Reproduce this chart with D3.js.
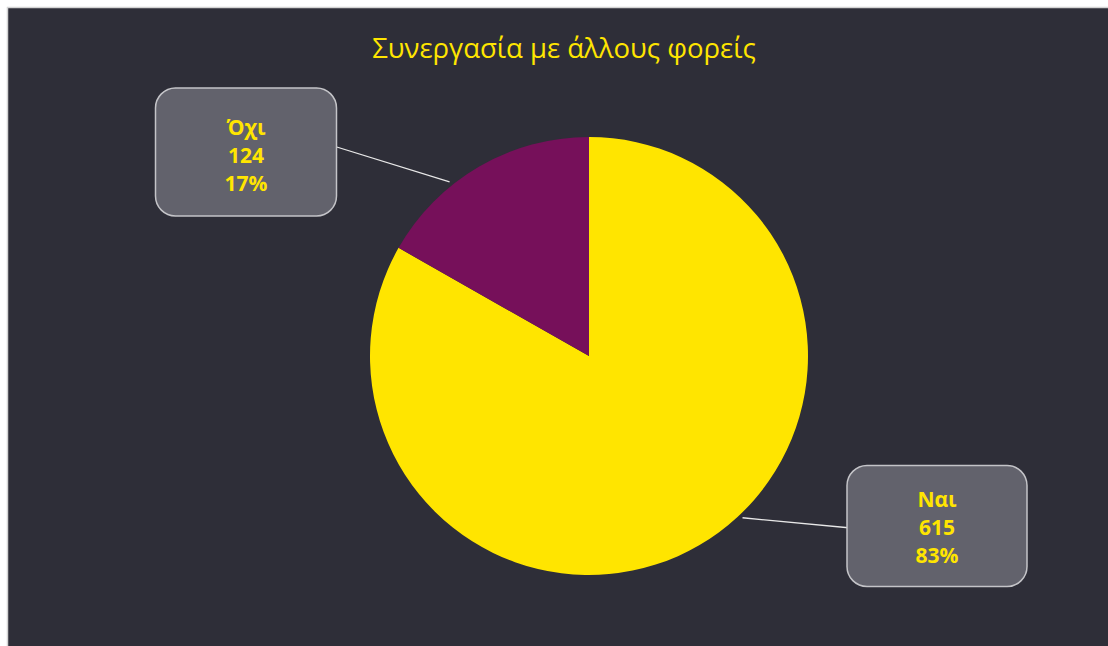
<!DOCTYPE html>
<html>
<head>
<meta charset="utf-8">
<script src="https://cdn.jsdelivr.net/npm/d3@7"></script>
<style>
  html, body { margin: 0; padding: 0; background: #ffffff; }
  svg { display: block; }
</style>
</head>
<body>
<svg id="chart" width="1108" height="646"></svg>
<script>
const categories = ['Ναι', 'Όχι'];
const values = [615, 124];
const percentLabels = ['83%', '17%'];
const title = 'Συνεργασία με άλλους φορείς';

const colors = { 'Ναι': '#ffe500', 'Όχι': '#76105a' };

// label box layout (centre of box, leader anchor angle in degrees)
const LABELS = {
  'Ναι': { cx: 937, cy: 526, w: 180, h: 121, angle: 136.5, side: 'right', dy: -2 },
  'Όχι': { cx: 246, cy: 152, w: 181, h: 128, angle: 321.3, side: 'left', dy: 0 },
};

const W = 1108, H = 646;
const CENTER = { x: 589, y: 356 };
const R = 219;

const svg = d3.select('#chart');

// frame
svg.append('rect')
  .attr('x', 7.5).attr('y', 7.5)
  .attr('width', W).attr('height', H)
  .attr('fill', '#2e2e38')
  .attr('stroke', '#d4d4d4')
  .attr('stroke-width', 1.5);

svg.append('text')
  .attr('x', 564)
  .attr('y', 58)
  .attr('text-anchor', 'middle')
  .attr('fill', '#ffe500')
  .attr('font-family', "'Open Sans', sans-serif")
  .attr('font-size', '27.5px')
  .text(title);

const data = categories.map((c, i) => ({ name: c, value: values[i], pct: percentLabels[i] }));

const pie = d3.pie().sort(null).value(d => d.value);
const arc = d3.arc().innerRadius(0).outerRadius(R);

const g = svg.append('g').attr('transform', `translate(${CENTER.x},${CENTER.y})`);

g.selectAll('path.slice')
  .data(pie(data))
  .join('path')
  .attr('class', 'slice')
  .attr('fill', d => colors[d.data.name])
  .attr('d', arc);

// leader lines + label boxes
data.forEach(d => {
  const L = LABELS[d.name];
  const a = L.angle * Math.PI / 180;
  const sx = CENTER.x + Math.sin(a) * (R + 4);
  const sy = CENTER.y - Math.cos(a) * (R + 4);
  const ex = L.side === 'left' ? L.cx + L.w / 2 - 3 : L.cx - L.w / 2 + 4;
  const ey = L.side === 'left' ? L.cy - 6 : L.cy + 2;

  svg.append('line')
    .attr('x1', sx).attr('y1', sy)
    .attr('x2', ex).attr('y2', ey)
    .attr('stroke', '#e8e8e8')
    .attr('stroke-width', 1.3);

  svg.append('rect')
    .attr('x', L.cx - L.w / 2)
    .attr('y', L.cy - L.h / 2)
    .attr('width', L.w)
    .attr('height', L.h)
    .attr('rx', 20)
    .attr('fill', '#62626c')
    .attr('stroke', '#c4c4c8')
    .attr('stroke-width', 1.5);

  const lines = [d.name, String(d.value), d.pct];
  svg.append('text')
    .attr('text-anchor', 'middle')
    .attr('fill', '#ffe500')
    .attr('font-family', "'Open Sans', sans-serif")
    .attr('font-weight', 'bold')
    .attr('font-size', '21px')
    .selectAll('tspan')
    .data(lines)
    .join('tspan')
    .attr('x', L.cx)
    .attr('y', (t, i) => L.cy + L.dy - 24 + i * 28 + 7)
    .text(t => t);
});
</script>
</body>
</html>
